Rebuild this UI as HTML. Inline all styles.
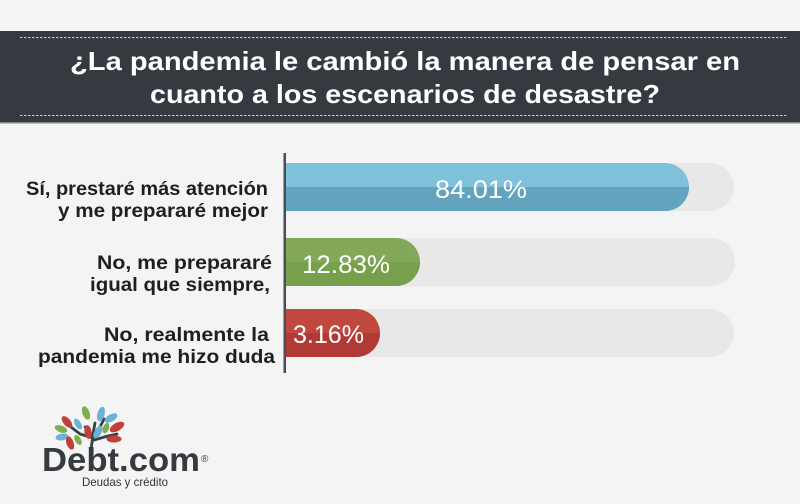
<!DOCTYPE html>
<html><head><meta charset="utf-8"><style>
html,body{margin:0;padding:0;background:#f4f4f4;}
svg{display:block;}
</style></head><body>
<svg width="800" height="504" viewBox="0 0 800 504" xmlns="http://www.w3.org/2000/svg">
<rect x="0" y="0" width="800" height="504" fill="#f4f4f4"/>
<!-- header band -->
<rect x="0" y="31" width="800" height="91" fill="#343a40"/>
<rect x="0" y="122" width="800" height="1.5" fill="#80848a"/>
<line x1="20" y1="37.5" x2="787" y2="37.5" stroke="#c9cbcd" stroke-width="1" stroke-dasharray="2.5,1.5"/>
<line x1="20" y1="115.5" x2="787" y2="115.5" stroke="#c9cbcd" stroke-width="1" stroke-dasharray="2.5,1.5"/>
<g font-family="Liberation Sans, sans-serif" font-weight="bold" font-size="26" fill="#ffffff">
<text x="70" y="70" textLength="670" lengthAdjust="spacingAndGlyphs">¿La pandemia le cambió la manera de pensar en</text>
<text x="150" y="103" textLength="510" lengthAdjust="spacingAndGlyphs">cuanto a los escenarios de desastre?</text>
</g>

<!-- labels -->
<g font-family="Liberation Sans, sans-serif" font-weight="bold" font-size="19" fill="#1e1f21">
<text x="26" y="195" textLength="242" lengthAdjust="spacingAndGlyphs">Sí, prestaré más atención</text>
<text x="58" y="217" textLength="210" lengthAdjust="spacingAndGlyphs">y me prepararé mejor</text>
<text x="97" y="269" textLength="175" lengthAdjust="spacingAndGlyphs">No, me prepararé</text>
<text x="90" y="291" textLength="180" lengthAdjust="spacingAndGlyphs">igual que siempre,</text>
<text x="104" y="341" textLength="165" lengthAdjust="spacingAndGlyphs">No, realmente la</text>
<text x="38" y="363" textLength="237" lengthAdjust="spacingAndGlyphs">pandemia me hizo duda</text>
</g>

<defs>
<clipPath id="b1"><rect x="286" y="187" width="460" height="24"/></clipPath>
<clipPath id="b2"><rect x="286" y="262" width="460" height="24"/></clipPath>
<clipPath id="b3"><rect x="286" y="333" width="460" height="24"/></clipPath>
</defs>

<!-- tracks -->
<path d="M286 163 H710 A24 24 0 0 1 710 211 H286 Z" fill="#e8e8e8"/>
<path d="M286 238 H711 A24 24 0 0 1 711 286 H286 Z" fill="#e8e8e8"/>
<path d="M286 309 H710 A24 24 0 0 1 710 357 H286 Z" fill="#e8e8e8"/>

<!-- bar 1 -->
<path d="M286 163 H665 A24 24 0 0 1 665 211 H286 Z" fill="#7fc0da"/>
<path d="M286 163 H665 A24 24 0 0 1 665 211 H286 Z" fill="#63a3bd" clip-path="url(#b1)"/>
<!-- bar 2 -->
<path d="M286 238 H396 A24 24 0 0 1 396 286 H286 Z" fill="#83a85a"/>
<path d="M286 238 H396 A24 24 0 0 1 396 286 H286 Z" fill="#76a04b" clip-path="url(#b2)"/>
<!-- bar 3 -->
<path d="M286 309 H356 A24 24 0 0 1 356 357 H286 Z" fill="#c1483f"/>
<path d="M286 309 H356 A24 24 0 0 1 356 357 H286 Z" fill="#b13a36" clip-path="url(#b3)"/>

<!-- axis -->
<rect x="283.5" y="153" width="2.5" height="220" fill="#4a4d55"/>

<!-- values -->
<g font-family="Liberation Sans, sans-serif" font-size="25" fill="#ffffff">
<text x="435" y="198" textLength="92" lengthAdjust="spacingAndGlyphs">84.01%</text>
<text x="302" y="273" textLength="88" lengthAdjust="spacingAndGlyphs">12.83%</text>
<text x="293" y="343" textLength="71" lengthAdjust="spacingAndGlyphs">3.16%</text>
</g>

<!-- logo tree -->
<g stroke="#3a3f46" stroke-width="2.8" fill="none" stroke-linecap="round">
<path d="M91 449 L93 436 L85 427"/>
<path d="M93 436 L100 427 L104 419"/>
<path d="M93 438 L80 434 L71 427"/>
<path d="M94 440 L108 436 L117 434"/>
<path d="M93 434 L95 423"/>
</g>
<g>
<ellipse cx="86" cy="413" rx="3.6" ry="7" fill="#7fae4f" transform="rotate(-20 86 413)"/>
<ellipse cx="101" cy="414" rx="3.6" ry="7.5" fill="#6cb2d8" transform="rotate(15 101 414)"/>
<ellipse cx="67" cy="422" rx="3.6" ry="7" fill="#c1403a" transform="rotate(-40 67 422)"/>
<ellipse cx="61" cy="429" rx="3.4" ry="6.5" fill="#7fae4f" transform="rotate(-70 61 429)"/>
<ellipse cx="62" cy="437" rx="3.4" ry="6.5" fill="#6cb2d8" transform="rotate(-100 62 437)"/>
<ellipse cx="70" cy="443" rx="3.6" ry="7" fill="#c1403a" transform="rotate(-20 70 443)"/>
<ellipse cx="117" cy="427" rx="4" ry="8" fill="#c1403a" transform="rotate(60 117 427)"/>
<ellipse cx="111" cy="418" rx="3.6" ry="7" fill="#6cb2d8" transform="rotate(60 111 418)"/>
<ellipse cx="106" cy="428" rx="3" ry="5.5" fill="#7fae4f" transform="rotate(20 106 428)"/>
<ellipse cx="98" cy="432" rx="3.6" ry="7" fill="#6cb2d8" transform="rotate(30 98 432)"/>
<ellipse cx="114" cy="439" rx="3.6" ry="7.5" fill="#c1403a" transform="rotate(90 114 439)"/>
<ellipse cx="78" cy="440" rx="3" ry="5.5" fill="#7fae4f" transform="rotate(-30 78 440)"/>
<ellipse cx="88" cy="432" rx="3.6" ry="7" fill="#c1403a" transform="rotate(-10 88 432)"/>
<ellipse cx="78" cy="424" rx="3" ry="6" fill="#6cb2d8" transform="rotate(-30 78 424)"/>
</g>
<text x="42" y="471" font-family="Liberation Sans, sans-serif" font-weight="bold" font-size="33" fill="#343a40" textLength="158" lengthAdjust="spacingAndGlyphs">Debt.com</text>
<text x="201" y="462" font-family="Liberation Sans, sans-serif" font-size="10" fill="#343a40">®</text>
<text x="82" y="486" font-family="Liberation Sans, sans-serif" font-size="12" fill="#333333" textLength="86" lengthAdjust="spacingAndGlyphs">Deudas y crédito</text>
</svg>
</body></html>
